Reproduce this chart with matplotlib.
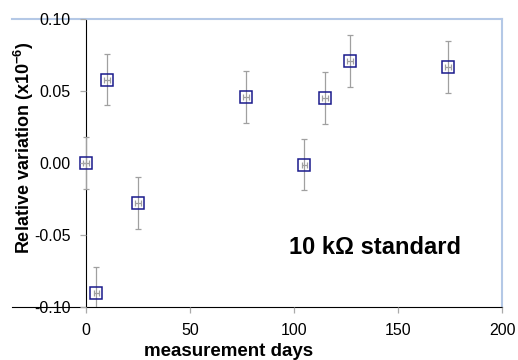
import matplotlib.pyplot as plt

days = [0, 5, 10, 25, 77, 105, 115, 127, 174]
variation = [0.000, -0.090, 0.058, -0.028, 0.046, -0.001, 0.045, 0.071, 0.067]
y_err = [0.018, 0.018, 0.018, 0.018, 0.018, 0.018, 0.018, 0.018, 0.018]
x_err = [1.4, 1.4, 1.4, 1.4, 1.4, 1.4, 1.4, 1.4, 1.4]
x_ticks = [0, 50, 100, 150, 200]
y_ticks = [-0.10, -0.05, 0.00, 0.05, 0.10]

plt.rcParams['font.family'] = ['Liberation Sans', 'DejaVu Sans']
plt.rcParams['mathtext.fontset'] = 'custom'
plt.rcParams['mathtext.bf'] = 'Liberation Sans:bold'
plt.rcParams['mathtext.rm'] = 'Liberation Sans:bold'

fig = plt.figure(figsize=(5.18, 3.6), dpi=100)
ax = fig.add_axes([0.0232, 0.147, 0.946, 0.8])

ax.errorbar(days, variation, yerr=y_err, xerr=x_err, fmt='none',
            ecolor='#a0a0a0', elinewidth=0.9, capsize=2.2, capthick=0.9, zorder=2)
ax.plot(days, variation, 's', markersize=8, markerfacecolor='none',
        markeredgecolor='#1a1a8c', markeredgewidth=1.1, zorder=3)

ax.set_xlim(-35.6, 200)
ax.set_ylim(-0.10, 0.10)
ax.set_xticks(x_ticks)
ax.set_yticks(y_ticks)
ax.set_yticklabels(['-0.10', '-0.05', '0.00', '0.05', '0.10'])

ax.spines['left'].set_position(('data', 0))
ax.spines['left'].set_color('black')
ax.spines['bottom'].set_color('black')
ax.spines['top'].set_color('#b4c8e6')
ax.spines['right'].set_color('#b4c8e6')
ax.spines['top'].set_linewidth(1.5)
ax.spines['right'].set_linewidth(1.5)
for s in ax.spines.values():
    s.set_zorder(1)

ax.tick_params(axis='both', direction='out', length=4.3, color='#aaaaaa',
               labelsize=11.5, width=0.9, pad=7)
ax.yaxis.set_zorder(4)

fig.text(229 / 518, 1 - 351 / 360, 'measurement days', fontsize=13.5,
         fontweight='bold', ha='center', va='center')
fig.text(24 / 518, 1 - 148 / 360, 'Relative variation (x10$^{-6}$)', rotation=90,
         fontsize=13, fontweight='bold', ha='center', va='center')

ax.text(139, -0.0585, '10 k\u03a9 standard', fontsize=17, fontweight='bold',
        ha='center', va='center')

fig.savefig('out.png', dpi=100)
